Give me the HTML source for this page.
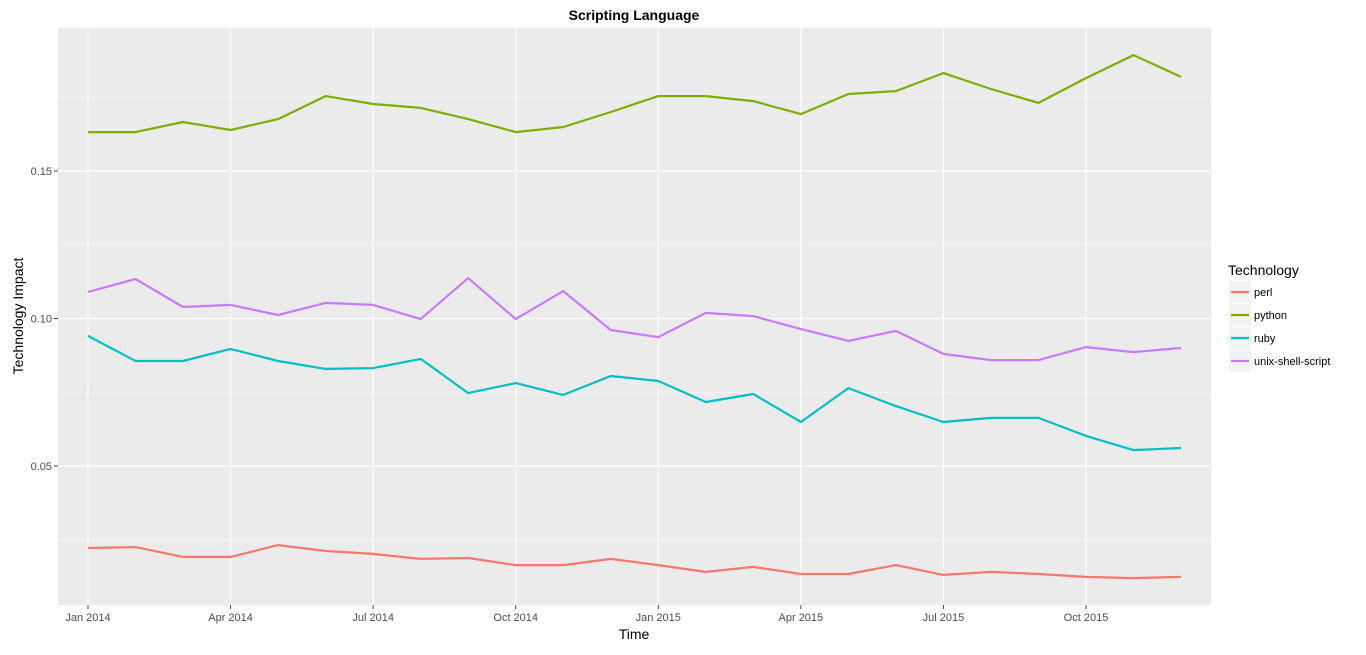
<!DOCTYPE html>
<html><head><meta charset="utf-8"><style>
body{margin:0;background:#fff;font-family:"Liberation Sans",sans-serif;}
svg text{font-family:"Liberation Sans",sans-serif;}
</style></head><body>
<svg id="c" width="1366" height="650"></svg>
<script>
const months=["Jan 2014","Feb 2014","Mar 2014","Apr 2014","May 2014","Jun 2014","Jul 2014","Aug 2014","Sep 2014","Oct 2014","Nov 2014","Dec 2014","Jan 2015","Feb 2015","Mar 2015","Apr 2015","May 2015","Jun 2015","Jul 2015","Aug 2015","Sep 2015","Oct 2015","Nov 2015","Dec 2015"];
const perl=[.0222,.0225,.0192,.0192,.0232,.0212,.0202,.0185,.0188,.0164,.0164,.0185,.0164,.0141,.0158,.0134,.0134,.0164,.0131,.0141,.0134,.0124,.0120,.0124];
const python=[.1632,.1632,.1666,.1639,.1676,.1754,.1727,.1714,.1676,.1632,.1649,.1700,.1754,.1754,.1737,.1693,.1761,.1771,.1832,.1778,.1731,.1815,.1893,.1819];
const ruby=[.0941,.0856,.0856,.0897,.0856,.0829,.0832,.0863,.0747,.0781,.0741,.0805,.0788,.0717,.0744,.0649,.0764,.0703,.0649,.0663,.0663,.0602,.0554,.0561];
const unix=[.1090,.1134,.1039,.1046,.1012,.1053,.1046,.0998,.1137,.0998,.1093,.0961,.0937,.1019,.1008,.0964,.0924,.0958,.0880,.0859,.0859,.0903,.0886,.0900];
const yTicks=[0.05,0.10,0.15];
const yMinor=[0.025,0.075,0.125,0.175];
const xTickIdx=[0,3,6,9,12,15,18,21];
const names=["perl","python","ruby","unix-shell-script"];
const colors=["#F8766D","#7CAE00","#00BFC4","#C77CFF"];
const series=[perl,python,ruby,unix];
const P={l:58,r:1211,t:28,b:605};
const xs=i=>88+i*(1086-88)/21;
const ys=v=>466-(v-0.05)*2950;
const NS="http://www.w3.org/2000/svg",svg=document.getElementById('c');
function mk(t,a,p){const e=document.createElementNS(NS,t);for(const k in a)e.setAttribute(k,a[k]);(p||svg).appendChild(e);return e;}
let e=mk('rect',{x:P.l,y:P.t,width:P.r-P.l,height:P.b-P.t,fill:'#EBEBEB'});

yMinor.forEach(v=>mk('line',{x1:P.l,x2:P.r,y1:ys(v),y2:ys(v),stroke:'#F7F7F7','stroke-width':1}));
yTicks.forEach(v=>{mk('line',{x1:P.l,x2:P.r,y1:ys(v),y2:ys(v),stroke:'#fff','stroke-width':1.2});
 mk('line',{x1:P.l-4,x2:P.l,y1:ys(v),y2:ys(v),stroke:'#444'});
 e=mk('text',{x:P.l-6,y:ys(v)+4,'text-anchor':'end','font-size':11,fill:'#4D4D4D'});e.textContent=v.toFixed(2);
 });
xTickIdx.forEach(i=>{mk('line',{x1:xs(i),x2:xs(i),y1:P.t,y2:P.b,stroke:'#fff','stroke-width':1.2});
 mk('line',{x1:xs(i),x2:xs(i),y1:P.b,y2:P.b+4,stroke:'#444'});
 e=mk('text',{x:xs(i),y:P.b+16,'text-anchor':'middle','font-size':11,fill:'#4D4D4D'});e.textContent=months[i];
 });
series.forEach((s,k)=>{const d=s.map((v,i)=>(i?'L':'M')+xs(i).toFixed(1)+','+ys(v).toFixed(1)).join('');
 e=mk('path',{d:d,fill:'none',stroke:colors[k],'stroke-width':2.2,'stroke-linejoin':'round'});
 });
e=mk('text',{x:634,y:20,'text-anchor':'middle','font-size':14,'font-weight':'bold'});e.textContent='Scripting Language';

e=mk('text',{x:634,y:639,'text-anchor':'middle','font-size':14});e.textContent='Time';

e=mk('text',{x:23,y:316,'text-anchor':'middle','font-size':14,transform:'rotate(-90 23 316)'});e.textContent='Technology Impact';

e=mk('text',{x:1228,y:275,'font-size':14});e.textContent='Technology';

names.forEach((n,k)=>{const y=281+k*23;
 const g=mk('g',{});
 mk('rect',{x:1229,y:y,width:22,height:22,fill:'#F2F2F2'},g);
 mk('line',{x1:1231,x2:1249,y1:y+11,y2:y+11,stroke:colors[k],'stroke-width':2.2},g);
 const t=mk('text',{x:1254,y:y+15,'font-size':11},g);t.textContent=n;});
</script>
</body></html>
